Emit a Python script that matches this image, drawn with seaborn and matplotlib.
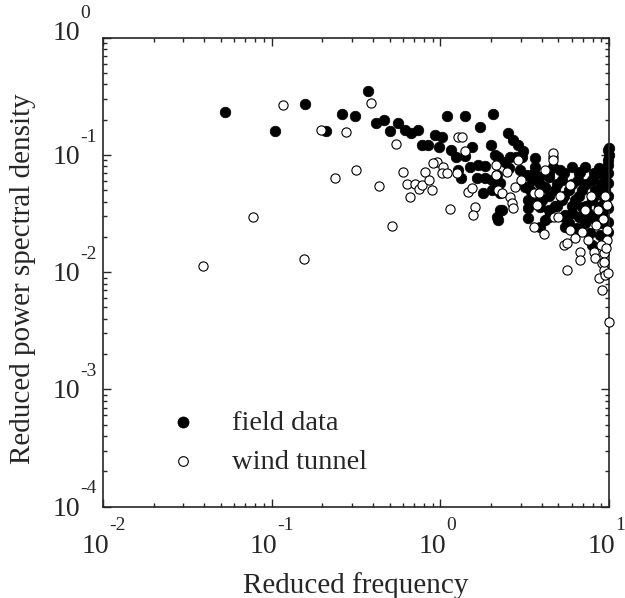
import numpy as np
import pandas as pd
import seaborn as sns
import matplotlib.pyplot as plt
from matplotlib.ticker import LogLocator, NullFormatter


# field data (filled circles)
field_freq = [0.053, 0.105, 0.158, 0.209, 0.262, 0.311, 0.371, 0.414, 0.466, 0.504,
              0.562, 0.619, 0.671, 0.734, 0.777, 0.851, 0.932, 0.976, 1.025, 1.09,
              1.159, 1.241, 1.409, 1.403, 1.55, 1.729, 1.988, 2.05, 2.11, 1.28,
              1.329, 1.502, 1.683, 1.844, 1.646, 1.844, 2.02, 1.794, 2.02, 2.26,
              2.26, 2.16, 2.21, 2.53, 2.71, 2.90, 3.11, 2.21, 2.42, 2.59,
              2.82, 3.05, 3.65, 3.65, 2.54, 2.97, 3.26, 3.49, 3.82, 2.16,
              2.26, 3.18, 3.41, 4.68, 6.02, 7.22, 8.66, 9.92, 9.92, 9.48,
              4.38, 5.25, 6.59, 7.91, 4.18, 4.79, 5.75, 6.90, 8.28, 9.48,
              3.33, 4.0, 5.25, 6.30, 7.91, 9.48, 2.32, 3.33, 4.38, 6.02,
              7.55, 9.07, 3.33, 4.18, 5.75, 7.22, 9.07, 3.91, 5.50, 6.45,
              7.73, 7.91, 9.48, 8.86, 9.95, 9.95, 9.86, 3.91, 5.1, 6.75,
              8.3, 4.8, 6.9, 8.7, 5.5, 8.0, 9.9, 9.9, 9.9, 9.9,
              9.9, 9.9, 3.6, 4.4, 5.4, 6.6, 8.1, 9.2, 3.9, 4.9,
              6.0, 7.3, 8.9, 3.6, 4.4, 5.4, 6.6, 8.1, 9.2, 4.9,
              6.0, 7.3, 8.9, 4.4, 5.4, 6.6, 8.1, 9.2]
field_psd = [0.231, 0.160, 0.274, 0.160, 0.224, 0.215, 0.353, 0.189, 0.199, 0.160,
             0.186, 0.163, 0.154, 0.162, 0.122, 0.122, 0.148, 0.117, 0.142, 0.215,
             0.110, 0.096, 0.215, 0.097, 0.116, 0.173, 0.122, 0.224, 0.100, 0.0745,
             0.0633, 0.0795, 0.0822, 0.0806, 0.0633, 0.0633, 0.0612, 0.0472, 0.0503, 0.0477,
             0.034, 0.0298, 0.0279, 0.153, 0.134, 0.122, 0.107, 0.0967, 0.0877, 0.0967,
             0.0967, 0.0967, 0.0937, 0.0795, 0.077, 0.0745, 0.0675, 0.0612, 0.0653, 0.0675,
             0.0574, 0.0537, 0.0503, 0.0795, 0.0795, 0.0795, 0.077, 0.0907, 0.110, 0.0653,
             0.0653, 0.0612, 0.0612, 0.0612, 0.0537, 0.0503, 0.0503, 0.0503, 0.0503, 0.0503,
             0.0413, 0.0413, 0.0413, 0.0413, 0.0413, 0.0388, 0.034, 0.0351, 0.034, 0.0318,
             0.0318, 0.0318, 0.0289, 0.0279, 0.0262, 0.0262, 0.0262, 0.0245, 0.0245, 0.0237,
             0.0215, 0.0171, 0.0177, 0.0208, 0.115, 0.100, 0.0822, 0.0363, 0.074, 0.0715,
             0.0675, 0.037, 0.036, 0.036, 0.031, 0.029, 0.07, 0.058, 0.045, 0.035,
             0.027, 0.022, 0.0707, 0.0707, 0.0707, 0.0707, 0.0707, 0.0707, 0.0563, 0.0563,
             0.0563, 0.0563, 0.0563, 0.045, 0.045, 0.045, 0.045, 0.045, 0.045, 0.0365,
             0.0365, 0.0365, 0.0365, 0.0295, 0.0295, 0.0295, 0.0295, 0.0295]

# wind tunnel (open circles)
tunnel_freq = [0.0394, 0.078, 0.117, 0.155, 0.195, 0.238, 0.2755, 0.316, 0.387, 0.434,
               0.5165, 0.545, 0.598, 0.632, 0.706, 0.743, 0.665, 0.777, 0.813, 0.858,
               0.888, 0.954, 1.043, 1.021, 1.093, 1.144, 1.28, 1.341, 1.403, 1.253,
               1.468, 1.544, 1.608, 1.571, 2.15, 2.15, 2.21, 2.32, 2.60, 2.67,
               2.71, 2.78, 2.90, 3.60, 3.60, 3.73, 3.82, 4.13, 4.68, 4.68,
               4.68, 4.73, 5.01, 5.42, 5.62, 6.75, 6.75, 5.62, 8.09, 8.28,
               8.66, 9.07, 9.07, 9.27, 9.48, 9.92, 9.27, 9.71, 9.95, 8.6,
               9.2, 9.7, 8.9, 8.4, 7.5, 6.9, 6.3, 5.9, 9.6, 9.3,
               9.7, 9.5, 7.2, 5.1, 7.8, 5.9, 3.0, 2.5, 0.90, 4.2]
tunnel_psd = [0.0114, 0.0293, 0.2685, 0.0129, 0.163, 0.0637, 0.157, 0.0749, 0.279, 0.0539,
              0.0248, 0.123, 0.0721, 0.0564, 0.0564, 0.0515, 0.0441, 0.0555, 0.0721, 0.0612,
              0.0498, 0.0877, 0.0785, 0.0698, 0.0698, 0.0346, 0.143, 0.1415, 0.109, 0.0698,
              0.0487, 0.0523, 0.0363, 0.0308, 0.0822, 0.0675, 0.0503, 0.0472, 0.0441, 0.0388,
              0.0351, 0.0537, 0.0907, 0.0477, 0.0245, 0.0375, 0.0472, 0.0211, 0.0967, 0.1034,
              0.0907, 0.0298, 0.0298, 0.0171, 0.0179, 0.015, 0.0127, 0.0105, 0.015, 0.0132,
              0.0089, 0.00706, 0.0119, 0.0105, 0.0095, 0.0098, 0.0145, 0.0189, 0.00379, 0.034,
              0.0286, 0.0229, 0.0171, 0.0254, 0.0189, 0.0222, 0.0196, 0.0228, 0.0162, 0.0122,
              0.0375, 0.0446, 0.034, 0.045, 0.045, 0.0555, 0.061, 0.072, 0.085, 0.074]

x_exponents = [-2, -1, 0, 1]
y_exponents = [-4, -3, -2, -1, 0]

field = pd.DataFrame({"freq": field_freq, "psd": field_psd})
tunnel = pd.DataFrame({"freq": tunnel_freq, "psd": tunnel_psd})

sns.set_style("ticks")
plt.rcParams["font.family"] = ["Liberation Serif", "DejaVu Serif"]

fig = plt.figure(figsize=(6.25, 5.98), dpi=100)
ax = fig.add_axes([0.1645, 0.1527, 0.81, 0.7843])

sns.scatterplot(data=field, x="freq", y="psd", ax=ax, color="black",
                edgecolor="black", s=58, linewidth=0.5, label="field data",
                zorder=2, clip_on=False)
sns.scatterplot(data=tunnel, x="freq", y="psd", ax=ax, color="white",
                edgecolor="black", s=44, linewidth=0.8, label="wind tunnel",
                zorder=3, clip_on=False)

ax.set_xscale("log")
ax.set_yscale("log")
ax.set_xlim(1e-2, 1e1)
ax.set_ylim(1e-4, 1e0)

ax.xaxis.set_major_locator(LogLocator(base=10, numticks=10))
ax.yaxis.set_major_locator(LogLocator(base=10, numticks=10))
ax.xaxis.set_minor_locator(LogLocator(base=10, subs=np.arange(2, 10), numticks=20))
ax.yaxis.set_minor_locator(LogLocator(base=10, subs=np.arange(2, 10), numticks=20))
ax.xaxis.set_minor_formatter(NullFormatter())
ax.yaxis.set_minor_formatter(NullFormatter())

ax.tick_params(which="both", direction="in", top=True, right=True, width=1,
               labelbottom=False, labelleft=False)
ax.tick_params(which="major", length=5.5)
ax.tick_params(which="minor", length=3)
for sp in ax.spines.values():
    sp.set_linewidth(1.2)

# "10" with a raised exponent, like the old plotting package
for e in x_exponents:
    ax.annotate("10", xy=(10.0 ** e, 0), xycoords=("data", "axes fraction"),
                xytext=(4.3, -33), textcoords="offset points",
                ha="right", va="baseline", fontsize=20, annotation_clip=False)
    ax.annotate("%d" % e, xy=(10.0 ** e, 0), xycoords=("data", "axes fraction"),
                xytext=(4.3, -16.5), textcoords="offset points",
                ha="left", va="baseline", fontsize=14, annotation_clip=False)
for e in y_exponents:
    dy = 1.5 if e == 0 else 6.5
    ax.annotate("10", xy=(0, 10.0 ** e), xycoords=("axes fraction", "data"),
                xytext=(-16.5, -dy), textcoords="offset points",
                ha="right", va="baseline", fontsize=20, annotation_clip=False)
    ax.annotate("%d" % e, xy=(0, 10.0 ** e), xycoords=("axes fraction", "data"),
                xytext=(-16.5, 16 - dy), textcoords="offset points",
                ha="left", va="baseline", fontsize=14, annotation_clip=False)

ax.set_xlabel("Reduced frequency", fontsize=21)
ax.xaxis.set_label_coords(0.5, -0.184)
ax.xaxis.label.set_va("baseline")
ax.set_ylabel("Reduced power spectral density", fontsize=21)
ax.yaxis.set_label_coords(-0.158, 0.4855)
ax.yaxis.label.set_va("center")

ax.legend(loc="center left", bbox_to_anchor=(0.103, 0.1375), frameon=False,
          fontsize=20.5, borderpad=0, handlelength=1.0, handletextpad=1.2,
          labelspacing=0.45, markerscale=1.05)

fig.savefig("out.png", dpi=100)
